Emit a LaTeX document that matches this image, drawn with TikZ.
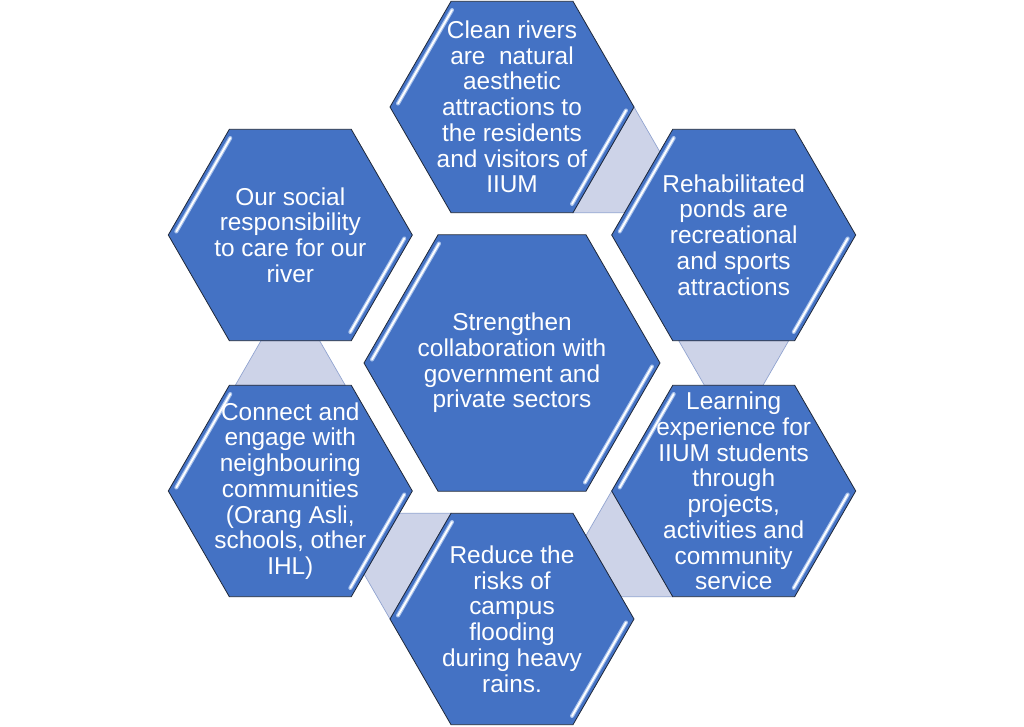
\documentclass[tikz,border=0pt]{standalone}
\usepackage{fontspec}
\setmainfont{Liberation Sans}
\usetikzlibrary{calc}
\definecolor{hexblue}{HTML}{4472C4}
\definecolor{hexedge}{HTML}{1E2738}
\definecolor{connfill}{HTML}{CDD3E8}
\definecolor{connedge}{HTML}{8FA2CF}
\definecolor{glow}{HTML}{A8C2EC}
\tikzset{
  hexshape/.style={fill=hexblue, draw=hexedge, line width=0.6pt, line join=miter},
  connshape/.style={fill=connfill, draw=connedge, line width=0.5pt},
  glowline/.style={draw=glow, line width=3pt, line cap=round, shorten <=3pt, shorten >=3pt},
  shineline/.style={draw=white, line width=1.3pt, line cap=round, shorten <=3pt, shorten >=3pt},
  hextext/.style={text=white, align=center, font=\fontsize{18.3}{19.3}\selectfont, inner sep=0pt},
}
\newcommand\hexcell[3]{%
  \draw[hexshape] ($(#1)+(0:#2)$) -- ($(#1)+(60:#2)$) -- ($(#1)+(120:#2)$) -- ($(#1)+(180:#2)$) -- ($(#1)+(240:#2)$) -- ($(#1)+(300:#2)$) -- cycle;
  \draw[glowline] ($(#1)+(240:#3)$) -- ($(#1)+(180:#3)$);
  \draw[shineline] ($(#1)+(240:#3)$) -- ($(#1)+(180:#3)$);
  \draw[glowline] ($(#1)+(0:#3)$) -- ($(#1)+(60:#3)$);
  \draw[shineline] ($(#1)+(0:#3)$) -- ($(#1)+(60:#3)$);
}
\begin{document}
\begin{tikzpicture}[x=0.75pt, y=-0.75pt]
\fill[white] (0,0) rectangle (1024,727);
\useasboundingbox (0,0) rectangle (1024,727);

\coordinate (cC) at (512,363);
\coordinate (cT) at (512,107);
\coordinate (cUR) at (733.7,235);
\coordinate (cLR) at (733.7,491);
\coordinate (cB) at (512,619);
\coordinate (cLL) at (290.3,491);
\coordinate (cUL) at (290.3,235);

% connectors
\draw[connshape] (634,107) -- (659.8,151.7) -- (624.5,212.7) -- (573,212.7) -- cycle;
\draw[connshape] (678.7,340.7) -- (788.7,340.7) -- (763,385.3) -- (704.4,385.3) -- cycle;
\draw[connshape] (611.7,491) -- (585.9,535.7) -- (621.2,596.7) -- (672.7,596.7) -- cycle;
\draw[connshape] (390,619) -- (364.2,574.3) -- (399.5,513.3) -- (451,513.3) -- cycle;
\draw[connshape] (261,340.7) -- (319.6,340.7) -- (345.3,385.3) -- (235.3,385.3) -- cycle;

% hexagons
\hexcell{cT}{122}{116}
\hexcell{cUR}{122}{116}
\hexcell{cLR}{122}{116}
\hexcell{cB}{122}{116}
\hexcell{cLL}{122}{116}
\hexcell{cUL}{122}{116}
\hexcell{cC}{148}{142}

% texts
\node[hextext] (nT) at (cT) {Clean rivers\\are\ \ natural\\aesthetic\\attractions to\\the residents\\and visitors of\\IIUM};
\node[hextext] (nUR) at (cUR) {Rehabilitated\\ponds are\\recreational\\and sports\\attractions};
\node[hextext] (nLR) at (cLR) {Learning\\experience for\\IIUM students\\through\\projects,\\activities and\\community\\service};
\node[hextext] (nB) at (cB) {Reduce the\\risks of\\campus\\flooding\\during heavy\\rains.};
\node[hextext] (nLL) at (cLL) {Connect and\\engage with\\neighbouring\\communities\\(Orang Asli,\\schools, other\\IHL)};
\node[hextext] (nUL) at (cUL) {Our social\\responsibility\\to care for our\\river};
\node[hextext] (nC) at (cC) {Strengthen\\collaboration with\\government and\\private sectors};
\end{tikzpicture}
\end{document}
